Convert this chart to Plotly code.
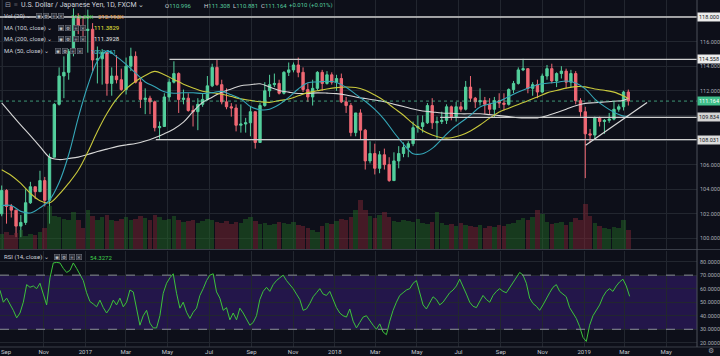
import pandas as pd
import plotly.graph_objects as go

# ---------------- data ----------------
week_start = "2016-08-31 12:00"
open_ = [102.0,103.9,102.6,102.3,101.0,101.3,102.9,104.2,103.8,104.7,
         103.1,106.6,110.9,113.2,113.5,115.2,117.9,117.3,116.9,117.0,
         114.5,114.6,115.1,112.6,113.2,112.9,112.1,114.0,114.8,112.7,
         111.3,111.4,111.1,109.0,109.1,111.5,112.7,113.4,111.3,111.4,
         110.4,110.3,110.9,111.3,112.4,113.9,112.5,111.1,110.7,110.6,
         109.2,109.3,109.4,110.3,107.8,110.8,112.0,112.5,112.6,111.8,
         113.5,113.7,114.1,113.5,112.1,111.5,112.2,113.5,112.6,113.3,
         112.7,113.0,111.1,110.8,108.6,110.2,108.8,106.3,106.9,105.7,
         106.8,106.0,104.7,106.3,106.9,107.4,107.7,109.0,109.1,109.4,
         110.8,109.4,109.5,109.6,110.7,109.9,110.7,110.5,112.3,111.4,
         111.1,111.2,110.9,110.5,111.2,111.0,110.9,112.1,112.6,113.7,
         113.8,112.2,112.5,111.9,113.2,113.8,112.8,113.4,113.6,112.7,
         113.4,111.2,110.3,108.5,108.4,109.8,109.5,109.6,109.7,110.5,
         110.7,111.9]
high = [104.3,104.0,102.8,102.3,101.9,104.0,104.6,104.2,105.5,105.0,
        106.9,111.0,113.9,114.8,115.4,118.7,118.3,118.0,118.6,117.5,
        115.6,115.4,115.1,113.9,114.9,113.8,114.7,115.5,115.2,113.0,
        112.2,111.6,111.2,109.5,111.8,113.0,114.4,113.5,112.1,111.8,
        110.8,111.4,111.8,113.2,114.2,114.5,112.9,112.2,111.0,110.9,
        110.9,109.8,110.7,110.3,111.0,112.7,113.3,113.4,112.9,113.6,
        114.3,114.3,114.7,113.9,112.6,112.9,113.6,113.7,113.6,113.5,
        113.3,113.4,111.5,111.0,110.2,110.5,108.9,107.9,107.7,107.1,
        107.3,106.6,107.0,107.5,107.8,107.9,109.5,110.0,110.0,111.0,
        111.4,109.9,110.3,110.9,110.8,111.1,111.1,112.8,113.2,111.5,
        112.2,111.5,111.4,111.5,111.8,111.8,112.2,112.8,113.9,114.6,
        113.8,112.7,112.9,113.4,114.1,114.2,113.5,114.0,113.8,113.7,
        113.6,111.4,110.7,108.9,109.9,109.9,109.7,110.2,111.1,110.9,
        112.0,112.1]
low = [101.8,101.2,101.7,100.1,100.1,101.1,102.8,103.2,103.8,102.6,
       101.2,106.6,110.8,111.4,112.9,114.8,116.6,116.0,115.1,113.6,
       112.6,112.5,111.6,111.6,112.6,112.0,111.7,113.6,112.6,110.6,
       110.1,110.1,108.7,108.1,109.1,111.2,112.6,110.2,110.9,110.3,
       109.1,108.8,110.7,111.2,112.3,112.4,110.9,110.5,109.9,108.7,
       108.6,108.6,108.3,107.3,107.8,110.7,111.5,112.3,111.7,111.7,
       113.2,113.5,113.1,111.9,111.1,110.8,112.0,112.0,112.5,112.5,
       112.0,111.0,110.2,108.3,108.3,108.0,105.6,106.1,105.2,105.3,
       105.6,104.6,104.7,105.7,106.6,106.6,107.5,108.6,108.6,109.3,
       108.9,108.1,109.3,109.3,109.6,109.5,110.3,110.4,111.1,110.6,
       110.8,110.1,110.1,109.8,110.6,110.4,110.8,111.8,112.5,113.6,
       111.8,111.6,111.4,111.8,112.9,112.6,112.3,113.0,112.2,112.3,
       110.9,109.9,104.9,107.8,108.0,109.1,108.5,109.4,109.6,110.3,
       110.4,110.8]
close = [103.9,102.6,102.3,101.0,101.3,102.9,104.2,103.8,104.7,103.1,
         106.6,110.9,113.2,113.5,115.2,117.9,117.3,116.9,117.0,114.5,
         114.6,115.1,112.6,113.2,112.9,112.1,114.0,114.8,112.7,111.3,
         111.4,111.1,109.0,109.1,111.5,112.7,113.4,111.3,111.4,110.4,
         110.3,110.9,111.3,112.4,113.9,112.5,111.1,110.7,110.6,109.2,
         109.3,109.4,110.3,107.8,110.8,112.0,112.5,112.6,111.8,113.5,
         113.7,114.1,113.5,112.1,111.5,112.2,113.5,112.6,113.3,112.7,
         113.0,111.1,110.8,108.6,110.2,108.8,106.3,106.9,105.7,106.8,
         106.0,104.7,106.3,106.9,107.4,107.7,109.0,109.1,109.4,110.8,
         109.4,109.5,109.6,110.7,109.9,110.7,110.5,112.3,111.4,111.1,
         111.2,110.9,110.5,111.2,111.0,110.9,112.1,112.6,113.7,113.8,
         112.2,112.5,111.9,113.2,113.8,112.8,113.4,113.6,112.7,113.4,
         111.2,110.3,108.5,108.4,109.8,109.5,109.6,109.7,110.5,110.7,
         111.9,111.164]
volume_k = [112,126,105,119,140,98,112,105,126,154,
            308,238,231,217,210,266,210,154,280,238,
            210,231,245,210,203,217,231,210,217,238,
            224,210,245,231,210,217,238,210,196,203,
            210,189,203,217,210,196,189,203,182,196,
            189,217,231,203,182,189,175,182,196,189,
            182,196,175,168,154,140,126,168,189,182,
            203,217,210,231,280,350,280,238,224,245,
            266,231,203,196,210,203,196,217,189,182,
            196,266,189,175,182,168,189,175,168,161,
            175,154,168,161,175,168,182,189,210,224,
            210,231,280,252,196,182,189,196,175,196,
            224,210,322,238,189,168,154,147,161,154,
            210,140]
# moving averages, read every two weeks (+ last bar)
ma50 = [102.67,102.67,102.20,102.07,102.49,103.12,104.54,106.80,109.80,112.43,
        114.41,115.24,114.78,114.15,113.44,112.72,112.33,111.92,111.80,111.84,
        111.84,111.78,111.85,111.95,111.67,111.34,110.72,110.46,110.50,110.88,
        111.46,112.15,112.65,112.72,112.77,112.68,112.29,111.71,111.15,110.49,
        109.66,108.61,107.67,106.89,106.89,107.32,108.07,108.85,109.44,110.02,
        110.69,110.93,111.15,111.53,111.91,112.21,112.49,112.61,112.69,112.80,
        112.64,112.16,111.33,110.73,110.25,109.94,109.94]
ma100 = [105.58,105.12,104.47,103.66,103.07,102.90,103.58,104.49,105.54,107.02,
         108.69,110.15,111.32,112.15,112.77,113.24,113.58,113.30,112.92,112.54,
         112.23,111.97,111.85,111.72,111.53,111.34,111.22,111.11,111.06,111.20,
         111.33,111.59,111.85,112.00,112.15,112.26,112.31,112.27,112.04,111.65,
         111.18,110.59,110.01,109.33,108.77,108.40,108.18,108.18,108.38,108.74,
         109.22,109.78,110.28,110.59,110.89,111.20,111.49,111.83,112.02,112.22,
         112.34,112.32,112.15,112.04,111.89,111.58,111.38]
ma200 = [111.02,110.11,109.21,108.35,107.47,106.60,106.41,106.50,106.61,106.82,
         107.06,107.26,107.46,107.60,107.72,107.92,108.19,108.51,108.90,109.45,
         110.31,111.06,111.48,111.89,112.15,112.41,112.49,112.57,112.30,112.03,
         111.89,111.78,111.79,111.83,111.81,111.77,111.66,111.50,111.37,111.25,
         111.11,110.91,110.72,110.52,110.36,110.28,110.20,110.17,110.13,110.13,
         110.13,110.06,109.98,109.90,109.82,109.80,109.80,109.97,110.23,110.50,
         110.79,110.98,111.03,111.09,111.15,111.22,111.39]
# RSI(14), read at even spacing along the time axis
rsi_start, rsi_step = "2016-08-29", "117h"
rsi = [58.8,50,53,49,44,38.4,42,50,63,61,62,60,64,56,48,68,79,79.4,79,75,
       72,73.5,79,75,71,66,57,50.5,48.7,46.6,51.5,46,42,45.6,51.5,48,53,46.6,50,59,
       57.6,46,33,40,44,34.5,31,31,40,56.6,64,68,71,56.6,45.6,50,42.6,38,42.6,45.6,
       55,60,66,70,71,57.6,53,44,46,37,42,37,45.6,42,38,33,35,40,52,58,
       61,58,63,66,68,70,66,63,60,56,52,44,45,49,54,57,60,56,55,58,
       52,46,42,40,39,45,36,31,35,39,40,36,33,30,34,28,26,36,44,50,
       55,57,59,60,64,66,56,48,45,50,54,52,48,50,54,57,59,62,67,62,
       56,50,47,46,51,55,52,50,55,58,60,58,57,61,65,68,72,70,64,53,
       49,47,44,48,53,57,61,63,58,56,54,46,42,38,32,24,21,33,40,44,
       48,54,58,60,58,62,65,67,62,54.33]
month_ticks = ["2016-09-01","2016-11-01","2017-01-01","2017-03-01","2017-05-01","2017-07-01",
               "2017-09-01","2017-11-01","2018-01-01","2018-03-01","2018-05-01","2018-07-01",
               "2018-09-01","2018-11-01","2019-01-01","2019-03-01","2019-05-01"]
month_labels = ["Sep","Nov","2017","Mar","May","Jul","Sep","Nov","2018","Mar","May","Jul",
                "Sep","Nov","2019","Mar","May"]
price_ticks = [100,102,104,106,108,110,112,114,116,118]
price_labels = ["100.000","102.000","104.000","106.000","","","112.000","114.000","116.000",""]
rsi_ticks = [20,30,40,50,60,70,80]
rsi_labels = ["20.0000","30.0000","40.0000","50.0000","60.0000","70.0000","80.0000"]
# drawn levels: (price, start date, label colour)
levels = [(118.000, "2016-08-29", "#ececec"), (114.558, "2017-05-04", "#ececec"),
          (109.834, "2018-06-04", "#d4d4d4"), (108.031, "2017-04-14", "#dcdcdc")]
trend = [("2019-01-03", 107.58), ("2019-04-03", 111.05)]
last_price = 111.164

# ---------------- styling ----------------
BG = "#0d0f19"
GRID = "#22262f"
TXT = "#a9acb5"
UP, DN = "#53cf9c", "#f06874"
VUP, VDN = "rgba(35,110,38,0.45)", "rgba(125,38,52,0.5)"
FONT = "Roboto"
X0, X1 = "2016-08-29", "2019-06-15"
PH = 347.0  # plot-area height in px
PW = 697.0

def py(p):
    return 1 - p / PH

def pxx(p):
    return p / PW

weeks = pd.date_range(week_start, periods=len(close), freq="7D")
ma_dates = list(weeks[::2]) + [weeks[-1]]
rsi_dates = pd.date_range(rsi_start, periods=len(rsi), freq=rsi_step)
vol_colors = [VUP if c >= o else VDN for o, c in zip(open_, close)]

fig = go.Figure()
fig.add_trace(go.Bar(x=weeks, y=volume_k, marker_color=vol_colors, marker_line_width=0,
                     width=7 * 86400000 * 0.95, xaxis="x", yaxis="y3", hoverinfo="skip"))
fig.add_trace(go.Candlestick(x=weeks, open=open_, high=high, low=low, close=close,
                             increasing=dict(line=dict(color=UP, width=1), fillcolor=UP),
                             decreasing=dict(line=dict(color=DN, width=1), fillcolor=DN),
                             whiskerwidth=0, xaxis="x", yaxis="y"))
for vals, col in [(ma200, "#d6d6d6"), (ma100, "#c8c83c"), (ma50, "#35a7b8")]:
    fig.add_trace(go.Scatter(x=ma_dates, y=vals, mode="lines", line=dict(color=col, width=1.1, shape="spline"),
                             xaxis="x", yaxis="y"))
fig.add_trace(go.Scatter(x=rsi_dates, y=rsi, mode="lines", line=dict(color="#3cc23c", width=1),
                         xaxis="x2", yaxis="y2"))

shapes = []
shapes.append(dict(type="rect", xref="x2 domain", yref="y2", x0=0, x1=1, y0=30, y1=70,
                   fillcolor="rgba(85,40,190,0.30)", line_width=0, layer="below"))
for v in (30, 70):
    shapes.append(dict(type="line", xref="x2 domain", yref="y2", x0=0, x1=1, y0=v, y1=v,
                       line=dict(color="#8a8d98", width=1, dash="dash")))
for price, start, _ in levels:
    shapes.append(dict(type="line", xref="x", yref="y", x0=start, x1=X1, y0=price, y1=price,
                       line=dict(color="#cfcfcf", width=1.3)))
shapes.append(dict(type="line", xref="x", yref="y", x0=trend[0][0], y0=trend[0][1],
                   x1=trend[1][0], y1=trend[1][1], line=dict(color="#d8d8d8", width=1.2)))
shapes.append(dict(type="line", xref="x", yref="y", x0=X0, x1=X1, y0=last_price, y1=last_price,
                   line=dict(color="rgba(83,207,156,0.7)", width=1, dash="dot")))
for yy in (py(249.5), 0.0):
    shapes.append(dict(type="line", xref="paper", yref="paper", x0=0, x1=720 / PW, y0=yy, y1=yy,
                       line=dict(color="#3a3e49", width=1)))
shapes.append(dict(type="line", xref="paper", yref="paper", x0=1, x1=1, y0=0, y1=1,
                   line=dict(color="#4c505b", width=1)))

ann = []

def txt(x, y, s, color="#cfd2da", size=6):
    ann.append(dict(xref="paper", yref="paper", x=pxx(x), y=py(y), text=s, showarrow=False,
                    xanchor="left", yanchor="middle", borderpad=0,
                    font=dict(family=FONT, size=size, color=color)))

def icons(x, y):
    for j, g in enumerate(["◉", "⚙", "+", "×"]):
        ann.append(dict(xref="paper", yref="paper", x=pxx(x + j * 7.3), y=py(y), text=g, showarrow=False,
                        xanchor="left", yanchor="middle", width=5, height=5, borderpad=0,
                        bgcolor="#30333d", bordercolor="#6b6e78", borderwidth=0.6,
                        font=dict(family="DejaVu Sans", size=4.5, color="#c8cad0")))

txt(4, 5, "⊟", "#9a9da6", 7)
txt(13, 5, "≡", "#9a9da6", 7)
txt(20, 5, "U.S. Dollar / Japanese Yen, 1D, FXCM ⌄", "#cfd2da", 7)
G = "#55c99c"
txt(164, 5, f'O<span style="color:{G}">110.996</span>')
txt(203, 5, f'H<span style="color:{G}">111.308</span>')
txt(232, 5, f'L<span style="color:{G}">110.881</span>')
txt(260, 5, f'C<span style="color:{G}">111.164</span>')
txt(288, 5, "+0.010 (+0.01%)", G)
txt(3, 16, "Vol (20) ⌄"); icons(36, 16)
txt(70, 16, "115.35K", "#3fd24a"); txt(97, 16, "212.193K", "#f0a040")
txt(3, 28, "MA (100, close) ⌄"); icons(58, 28); txt(93, 28, "111.3829", "#e8e83c")
txt(3, 39, "MA (200, close) ⌄"); icons(58, 39); txt(93, 39, "111.3928", "#e8e8e8")
txt(3, 51, "MA (50, close) ⌄"); icons(55, 51); txt(90, 51, "109.9361", "#3fc6d6")
txt(3, 257, "RSI (14, close) ⌄"); icons(54, 257); txt(89, 257, "54.3272", "#3fd24a")
txt(0, 351.5, month_labels[0], "#c4c7cf")

for price, _, col in levels:
    ann.append(dict(xref="paper", yref="y", x=1, y=price, text=f"{price:.3f}", showarrow=False,
                    xanchor="left", yanchor="middle", bgcolor=col, borderpad=1,
                    font=dict(family=FONT, size=5.5, color="#131722")))
ann.append(dict(xref="paper", yref="y", x=1, y=last_price, text=f"{last_price:.3f}", showarrow=False,
                xanchor="left", yanchor="middle", bgcolor="#3fbf8a", borderpad=1,
                font=dict(family=FONT, size=5.5, color="#ffffff")))
ann.append(dict(xref="paper", yref="paper", x=pxx(711), y=py(351.5), text="⚙", showarrow=False,
                xanchor="center", yanchor="middle", font=dict(family="DejaVu Sans", size=7, color="#9a9da6")))

fig.update_layout(
    width=720, height=356, margin=dict(l=0, r=23, t=0, b=9),
    paper_bgcolor=BG, plot_bgcolor=BG, showlegend=False, template="none",
    font=dict(family=FONT, size=6, color=TXT),
    shapes=shapes, annotations=ann, bargap=0,
    xaxis=dict(domain=[0, 1], range=[X0, X1], anchor="y", showticklabels=False,
               tickvals=month_ticks, showgrid=True, gridcolor=GRID, gridwidth=1,
               zeroline=False, showline=False, rangeslider=dict(visible=False), automargin=False),
    xaxis2=dict(domain=[0, 1], matches="x", anchor="y2", tickvals=month_ticks[1:], ticktext=month_labels[1:],
                showgrid=True, gridcolor=GRID, zeroline=False, showline=False, ticks="",
                ticklabelstandoff=0,
                tickfont=dict(family=FONT, size=6, color="#c4c7cf"), automargin=False),
    yaxis=dict(domain=[py(249.5), 1], range=[99.10, 119.38], side="right", tickvals=price_ticks,
               ticktext=price_labels, showgrid=True, gridcolor=GRID, zeroline=False, showline=False,
               ticks="", ticklabelstandoff=2, tickfont=dict(family=FONT, size=5.5, color=TXT), automargin=False),
    yaxis3=dict(overlaying="y", range=[0, 1750], visible=False, showgrid=False),
    yaxis2=dict(domain=[0, py(250.5)], range=[16.9, 88.2], side="right", tickvals=rsi_ticks,
                ticktext=rsi_labels, showgrid=True, gridcolor=GRID, zeroline=False, showline=False,
                ticks="", ticklabelstandoff=2, tickfont=dict(family=FONT, size=5.5, color=TXT), automargin=False),
)
fig.add_vline(x=month_ticks[0], line=dict(color=GRID, width=1), layer="below")
fig.write_html("out.html", config={"displayModeBar": False},
               post_script="document.body.style.margin='0';document.body.style.padding='0';"
                           "document.documentElement.style.overflow='hidden';")
